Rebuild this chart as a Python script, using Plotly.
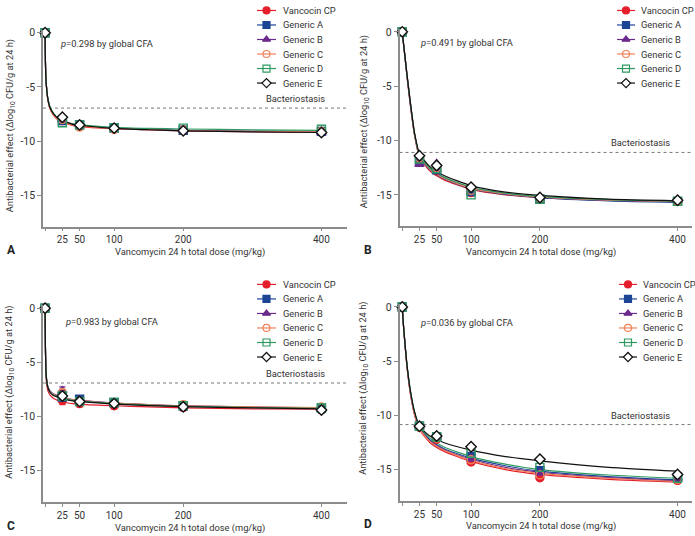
import plotly.graph_objects as go

W, H = 695, 536
FONT = "Roboto, Liberation Sans, Arial, sans-serif"
TXT = "#333333"
AXC = "#8c8c8c"

SERIES = ["Vancocin CP", "Generic A", "Generic B", "Generic C", "Generic D", "Generic E"]
COLORS = ["#e41e2b", "#1d4596", "#6b2a8c", "#f0825a", "#2f9a62", "#111111"]
SYMBOLS = ["circle", "square", "triangle-up", "circle-open", "square-open", "diamond"]
FILLS = ["#e41e2b", "#1d4596", "#6b2a8c", "#f0825a", "#2f9a62", "white"]

DOSE = [0, 25, 50, 100, 200, 400]
X_TICKS = [0, 25, 50, 100, 200, 400]
X_TICKTEXT = ["", "25", "50", "100", "200", "400"]
Y_TICKS = [0, -5, -10, -15]
Y_TICKTEXT = ["0", "-5", "-10", "-15"]

P_TEXT = ["0.298", "0.491", "0.983", "0.036"]
PANEL_LABELS = ["A", "B", "C", "D"]
BACTERIOSTASIS = [-6.95, -11.1, -6.9, -10.85]

# observed means per panel, series order as SERIES
OBS_A = [[0, -8.1, -8.6, -8.9, -9.0, -9.2],
         [0, -8.1, -8.5, -8.8, -9.0, -9.1],
         [0, -8.0, -8.5, -8.8, -9.0, -9.2],
         [0, -8.0, -8.7, -8.9, -9.0, -9.1],
         [0, -8.3, -8.5, -8.75, -8.8, -8.9],
         [0, -7.8, -8.5, -8.8, -9.05, -9.2]]
OBS_B = [[0, -12.0, -12.8, -14.8, -15.3, -15.6],
         [0, -11.8, -12.7, -14.7, -15.4, -15.6],
         [0, -12.2, -12.1, -14.4, -15.3, -15.5],
         [0, -11.6, -12.5, -14.6, -15.3, -15.6],
         [0, -11.7, -12.6, -15.0, -15.4, -15.6],
         [0, -11.4, -12.3, -14.3, -15.25, -15.5]]
OBS_C = [[0, -8.5, -8.8, -9.0, -9.15, -9.3],
         [0, -8.2, -8.4, -8.7, -9.0, -9.2],
         [0, -7.6, -8.5, -8.8, -9.0, -9.3],
         [0, -7.8, -8.6, -8.8, -8.9, -9.1],
         [0, -8.1, -8.6, -8.7, -9.0, -9.2],
         [0, -8.1, -8.6, -8.8, -9.1, -9.4]]
ERR_C = [[0, 0.4, 0.3, 0.3, 0.3, 0.3],
         [0, 0.3, 0.3, 0.25, 0.3, 0.3],
         [0, 0.35, 0.3, 0.25, 0.3, 0.3],
         [0, 0.35, 0.25, 0.25, 0.3, 0.3],
         [0, 0.3, 0.3, 0.25, 0.3, 0.3],
         [0, 0.3, 0.3, 0.3, 0.3, 0.3]]
OBS_D = [[0, -11.1, -12.2, -14.3, -15.75, -16.0],
         [0, -11.0, -12.0, -13.8, -15.1, -15.7],
         [0, -11.0, -12.0, -14.0, -15.3, -15.8],
         [0, -11.1, -12.1, -14.1, -15.5, -15.9],
         [0, -11.0, -12.0, -13.5, -14.8, -15.8],
         [0, -11.0, -11.9, -12.9, -14.05, -15.45]]

# fitted curves
CURVE_DOSE = [0, 0.5, 1, 2, 4, 7, 12, 18, 25, 40, 60, 100, 150, 200, 300, 400]
FIT_A = [[0, -2.4, -3.7, -4.9, -6.1, -7.0, -7.6, -8.0, -8.25, -8.55, -8.7, -8.85, -8.95, -9.05, -9.12, -9.18],
         [0, -2.5, -3.8, -4.9, -6.1, -6.9, -7.5, -7.9, -8.15, -8.45, -8.6, -8.8, -8.92, -9.0, -9.08, -9.12],
         [0, -2.6, -3.9, -5.0, -6.1, -6.9, -7.45, -7.85, -8.1, -8.45, -8.62, -8.82, -8.95, -9.03, -9.12, -9.18],
         [0, -2.5, -3.8, -4.9, -6.2, -7.0, -7.6, -7.95, -8.2, -8.5, -8.66, -8.85, -8.96, -9.02, -9.1, -9.15],
         [0, -2.5, -3.8, -4.9, -6.0, -6.8, -7.4, -7.85, -8.1, -8.4, -8.55, -8.72, -8.82, -8.88, -8.95, -9.0],
         [0, -2.6, -3.9, -5.0, -6.1, -6.9, -7.45, -7.85, -8.1, -8.45, -8.6, -8.82, -8.95, -9.05, -9.15, -9.2]]
FIT_B = [[0, -0.3, -0.6, -1.2, -2.4, -4.2, -6.9, -9.6, -11.5, -12.8, -13.6, -14.5, -15.0, -15.25, -15.5, -15.6],
         [0, -0.3, -0.6, -1.2, -2.3, -4.1, -6.8, -9.5, -11.4, -12.7, -13.5, -14.45, -14.95, -15.25, -15.55, -15.7],
         [0, -0.3, -0.6, -1.2, -2.3, -4.0, -6.7, -9.45, -11.35, -12.6, -13.4, -14.35, -14.9, -15.2, -15.5, -15.65],
         [0, -0.3, -0.6, -1.2, -2.3, -4.0, -6.7, -9.45, -11.4, -12.65, -13.45, -14.4, -14.9, -15.2, -15.5, -15.6],
         [0, -0.3, -0.6, -1.2, -2.3, -4.0, -6.6, -9.4, -11.3, -12.55, -13.35, -14.3, -14.85, -15.15, -15.45, -15.6],
         [0, -0.3, -0.6, -1.2, -2.3, -4.0, -6.6, -9.35, -11.2, -12.4, -13.2, -14.15, -14.75, -15.05, -15.4, -15.55]]
FIT_C = [[0, -3.6, -5.4, -6.8, -7.6, -8.0, -8.3, -8.5, -8.65, -8.8, -8.9, -9.0, -9.1, -9.2, -9.28, -9.32],
         [0, -3.5, -5.2, -6.5, -7.3, -7.7, -8.0, -8.15, -8.3, -8.5, -8.6, -8.78, -8.92, -9.02, -9.15, -9.22],
         [0, -3.4, -5.1, -6.4, -7.2, -7.6, -7.9, -8.05, -8.2, -8.42, -8.55, -8.75, -8.9, -9.0, -9.12, -9.2],
         [0, -3.5, -5.2, -6.5, -7.3, -7.7, -7.95, -8.1, -8.25, -8.45, -8.58, -8.76, -8.9, -9.0, -9.1, -9.18],
         [0, -3.5, -5.2, -6.5, -7.3, -7.7, -8.0, -8.15, -8.3, -8.5, -8.62, -8.8, -8.95, -9.05, -9.16, -9.24],
         [0, -3.5, -5.2, -6.5, -7.3, -7.75, -8.05, -8.2, -8.35, -8.55, -8.66, -8.84, -8.98, -9.08, -9.2, -9.28]]
FIT_D = [[0, -0.5, -1.0, -1.9, -3.5, -5.6, -8.1, -10.0, -11.3, -12.5, -13.3, -14.25, -15.0, -15.45, -15.9, -16.15],
         [0, -0.5, -1.0, -1.9, -3.4, -5.5, -7.9, -9.8, -11.1, -12.25, -13.05, -13.95, -14.65, -15.15, -15.65, -15.95],
         [0, -0.5, -1.0, -1.9, -3.5, -5.5, -8.0, -9.9, -11.2, -12.35, -13.15, -14.05, -14.8, -15.25, -15.75, -16.05],
         [0, -0.5, -1.0, -1.9, -3.5, -5.6, -8.0, -9.95, -11.25, -12.4, -13.2, -14.15, -14.9, -15.35, -15.8, -16.1],
         [0, -0.5, -1.0, -1.9, -3.4, -5.4, -7.8, -9.7, -11.0, -12.1, -12.9, -13.8, -14.5, -15.0, -15.5, -15.8],
         [0, -0.5, -1.0, -1.9, -3.4, -5.4, -7.8, -9.7, -11.0, -11.9, -12.5, -13.2, -13.8, -14.2, -14.8, -15.15]]

OBS = [OBS_A, OBS_B, OBS_C, OBS_D]
FITS = [FIT_A, FIT_B, FIT_C, FIT_D]
ERRS = [None, None, ERR_C, None]


def px(x):
    return x / W


def py(y):
    return 1 - y / H


# pixel geometry of each panel
PANELS = [
    dict(x0=43, x1=347, yt=26.7, yb=225.0, xr=[-3, 437], ytitle=(10, 124), leg=(257, 276, 281, 7.5),
         ptext=(58, 41)),
    dict(x0=399.5, x1=692, yt=25.7, yb=224.6, xr=[-4, 421], ytitle=(364, 120), leg=(617, 635, 639, 7.5),
         ptext=(418, 39.5)),
    dict(x0=43, x1=347, yt=303.7, yb=502.0, xr=[-3, 437], ytitle=(10, 392), leg=(257, 276, 281, 283),
         ptext=(63, 320)),
    dict(x0=399.5, x1=692, yt=302.4, yb=500.8, xr=[-4, 421], ytitle=(364, 388), leg=(619, 637, 641, 283),
         ptext=(418, 321)),
]
FS = 9.3

fig = go.Figure()
annotations = []

for k, p in enumerate(PANELS):
    n = k + 1
    xa = "x" if n == 1 else f"x{n}"
    ya = "y" if n == 1 else f"y{n}"
    fig.update_layout(**{
        ("xaxis" if n == 1 else f"xaxis{n}"): dict(
            domain=[px(p["x0"]), px(p["x1"])], range=p["xr"], anchor=ya,
            tickvals=X_TICKS, ticktext=X_TICKTEXT, ticks="outside", ticklen=3, tickwidth=1,
            tickcolor=AXC, showline=True, linecolor=AXC, linewidth=1.5, showgrid=False,
            zeroline=False, tickfont=dict(size=10, color=TXT, family=FONT)),
        ("yaxis" if n == 1 else f"yaxis{n}"): dict(
            domain=[py(p["yb"]), py(p["yt"])], range=[-17.9, 0.3], anchor=xa,
            tickvals=Y_TICKS, ticktext=Y_TICKTEXT, ticks="outside", ticklen=4, tickwidth=1,
            tickcolor=AXC, showline=True, linecolor=AXC, linewidth=1.5, showgrid=False,
            zeroline=False, tickfont=dict(size=10.5, color=TXT, family=FONT)),
    })

    # bacteriostasis line
    fig.add_trace(go.Scatter(x=[p["xr"][0], p["xr"][1]], y=[BACTERIOSTASIS[k]] * 2, mode="lines",
                             line=dict(color="#555555", width=0.8, dash="dot"),
                             xaxis=xa, yaxis=ya, showlegend=False, hoverinfo="skip"))
    bx = (p["x1"] - 52 - p["x0"]) / (p["x1"] - p["x0"]) * (p["xr"][1] - p["xr"][0]) + p["xr"][0]
    annotations.append(dict(x=bx, y=BACTERIOSTASIS[k], xref=xa, yref=ya, text="Bacteriostasis",
                            showarrow=False, yanchor="bottom", yshift=2,
                            font=dict(size=FS, color=TXT, family=FONT)))

    # fitted curves
    for s in range(len(SERIES)):
        fig.add_trace(go.Scatter(x=CURVE_DOSE, y=FITS[k][s], mode="lines", line_shape="spline",
                                 line=dict(color=COLORS[s], width=1.2, smoothing=0.6),
                                 xaxis=xa, yaxis=ya, showlegend=False, hoverinfo="skip"))
    # observed points
    for s in range(len(SERIES)):
        err = None
        if ERRS[k] is not None:
            err = dict(type="data", array=ERRS[k][s], color=COLORS[s], thickness=1.2, width=3)
        fig.add_trace(go.Scatter(x=DOSE, y=OBS[k][s], mode="markers", name=SERIES[s],
                                 marker=dict(symbol=SYMBOLS[s], size=8, color=FILLS[s],
                                             line=dict(color=COLORS[s], width=1.4)),
                                 error_y=err, cliponaxis=False,
                                 xaxis=xa, yaxis=ya, showlegend=False))

    annotations.append(dict(x=px(p["ptext"][0]), y=py(p["ptext"][1]), xref="paper", yref="paper",
                            text=f"<i>p</i>={P_TEXT[k]} by global CFA", showarrow=False,
                            xanchor="left", yanchor="middle",
                            font=dict(size=FS, color=TXT, family=FONT)))
    annotations.append(dict(x=px(p["ytitle"][0]), y=py(p["ytitle"][1]), xref="paper", yref="paper",
                            text="Antibacterial effect (Δlog<sub>10</sub> CFU/g at 24 h)",
                            textangle=-90, showarrow=False, xanchor="center", yanchor="middle",
                            font=dict(size=FS, color=TXT, family=FONT)))
    annotations.append(dict(x=px((p["x0"] + p["x1"]) / 2 - 5), y=py(p["yb"] + 25.5), xref="paper", yref="paper",
                            text="Vancomycin 24 h total dose (mg/kg)", showarrow=False,
                            xanchor="center", yanchor="middle",
                            font=dict(size=FS, color=TXT, family=FONT)))
    annotations.append(dict(x=px(p["x0"] - 38), y=py(p["yb"] + 23.5), xref="paper", yref="paper",
                            text=f"<b>{PANEL_LABELS[k]}</b>", showarrow=False,
                            xanchor="left", yanchor="middle",
                            font=dict(size=12, color="#222222", family=FONT)))

    # manual legend drawn on a pixel overlay axis
    lx0, lx1, ltx, ly0 = p["leg"]
    for s in range(len(SERIES)):
        yy = ly0 + 14.6 * s
        fig.add_trace(go.Scatter(x=[lx0, lx1], y=[yy, yy], mode="lines",
                                 line=dict(color=COLORS[s], width=1.2),
                                 xaxis="x5", yaxis="y5", showlegend=False, hoverinfo="skip"))
        fig.add_trace(go.Scatter(x=[(lx0 + lx1) / 2], y=[yy], mode="markers",
                                 marker=dict(symbol=SYMBOLS[s], size=7, color=FILLS[s],
                                             line=dict(color=COLORS[s], width=1.2)),
                                 xaxis="x5", yaxis="y5", showlegend=False, hoverinfo="skip"))
        annotations.append(dict(x=px(ltx), y=py(yy), xref="paper", yref="paper", text=SERIES[s],
                                showarrow=False, xanchor="left", yanchor="middle",
                                font=dict(size=FS, color=TXT, family=FONT)))

fig.update_layout(
    xaxis5=dict(domain=[0, 1], range=[0, W], visible=False, anchor="y5", fixedrange=True),
    yaxis5=dict(domain=[0, 1], range=[H, 0], visible=False, anchor="x5", fixedrange=True),
    width=W, height=H, margin=dict(l=0, r=0, t=0, b=0),
    paper_bgcolor="white", plot_bgcolor="rgba(0,0,0,0)",
    showlegend=False, annotations=annotations,
    font=dict(family=FONT, color=TXT),
)

fig.write_html("out.html", config={"displayModeBar": False},
               post_script="document.body.style.margin='0';document.body.style.overflow='hidden';")
